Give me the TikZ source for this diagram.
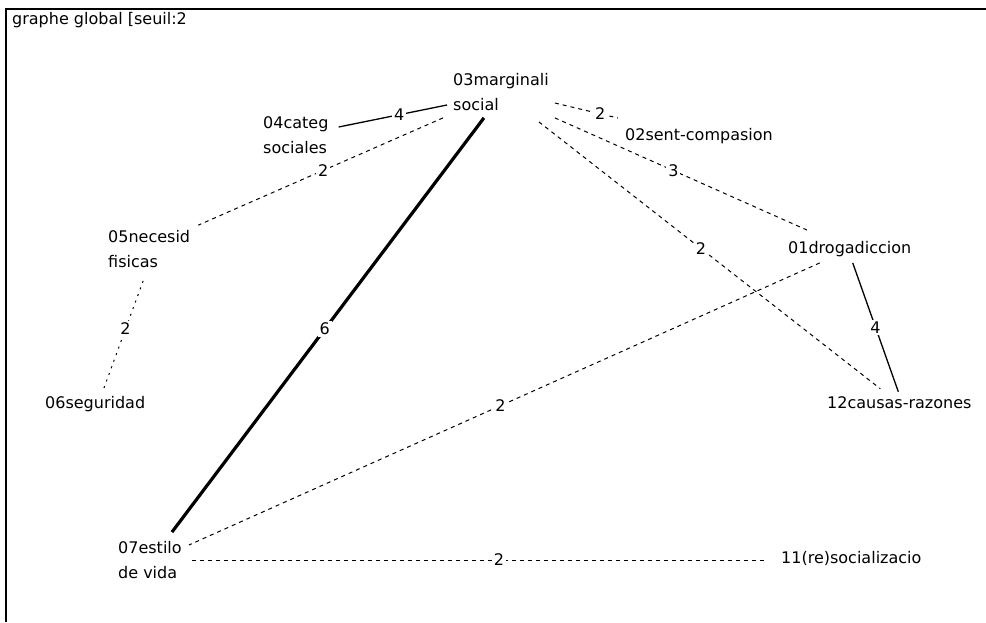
\documentclass[tikz,border=0pt]{standalone}
\usepackage{fontspec}
\setmainfont{DejaVu Sans}
\usetikzlibrary{calc}

\begin{document}
\begin{tikzpicture}[
		x=1pt, y=-1pt,
		nodefont/.style={font=\fontsize{16}{25}\selectfont},
		term/.style={nodefont, inner sep=0pt, anchor=west, align=left},
		weight/.style={nodefont, fill=white, inner sep=2pt},
		dashedge/.style={line width=1pt, dash pattern=on 4pt off 4pt},
		dotedge/.style={line width=1pt, dash pattern=on 2pt off 5pt},
		thinedge/.style={line width=1.3pt},
		boldedge/.style={line width=3.2pt}
	]
	% 边框和标题
	\useasboundingbox (0, 0) rectangle (986, 622);
	\draw[line width=2pt] (6, 622) -- (6, 9) -- (986, 9);
	\node[term] (title) at (12, 20) {graphe global [seuil:2};

	% 各个词项
	\node[term] (n03) at (453, 92) {03marginali\\social};
	\node[term] (n04) at (263, 135.5) {04categ\\sociales};
	\node[term] (n02) at (625, 136) {02sent-compasion};
	\node[term] (n05) at (108, 249) {05necesid\\fisicas};
	\node[term] (n01) at (788, 249) {01drogadiccion};
	\node[term] (n06) at (45, 404) {06seguridad};
	\node[term] (n12) at (827, 403) {12causas-razones};
	\node[term] (n07) at (118, 560) {07estilo\\de vida};
	\node[term] (n11) at (781, 558) {11(re)socializacio};

	% 从 03 出发的边
	\draw[thinedge] ($(n03.west)+(-6, 13)$) -- ($(n04.east)+(10, -8.5)$) node[weight, pos=0.44] {4};
	\draw[dashedge] ($(n03.south west)+(-10, 7)$) -- ($(n05.north east)+(8, -5)$) node[weight, pos=0.49] {2};
	\draw[boldedge] ($(n03.south)+(-17, 7)$) -- ($(n07.north)+(22, -9)$) node[weight, pos=0.51] {6};
	\draw[dashedge] ($(n03.east)+(6, 11)$) -- ($(n02.north west)+(-7, -10)$) node[weight, pos=0.72] {2};
	\draw[dashedge] ($(n03.south east)+(6, 7)$) -- ($(n01.north west)+(19, -11)$) node[weight, pos=0.47] {3};
	\draw[dashedge] ($(n03.south east)+(-10, 11)$) -- ($(n12.north)+(-19, -8)$) node[weight, pos=0.475] {2};

	% 其余的边
	\draw[thinedge] ($(n01.south)+(3, 6)$) -- ($(n12.north)+(-1, -5)$) node[weight, pos=0.5] {4};
	\draw[dashedge] ($(n01.south)+(-30, 6)$) -- ($(n07.east)+(7, -15)$) node[weight, pos=0.506] {2};
	\draw[dotedge] ($(n05.south)+(-6, 13)$) -- ($(n06.north)+(8, -6)$) node[weight, pos=0.44] {2};
	\draw[dashedge] ($(n07.east)+(10, 0)$) -- ($(n11.west)+(-14, 2)$) node[weight, pos=0.534] {2};
\end{tikzpicture}
\end{document}
